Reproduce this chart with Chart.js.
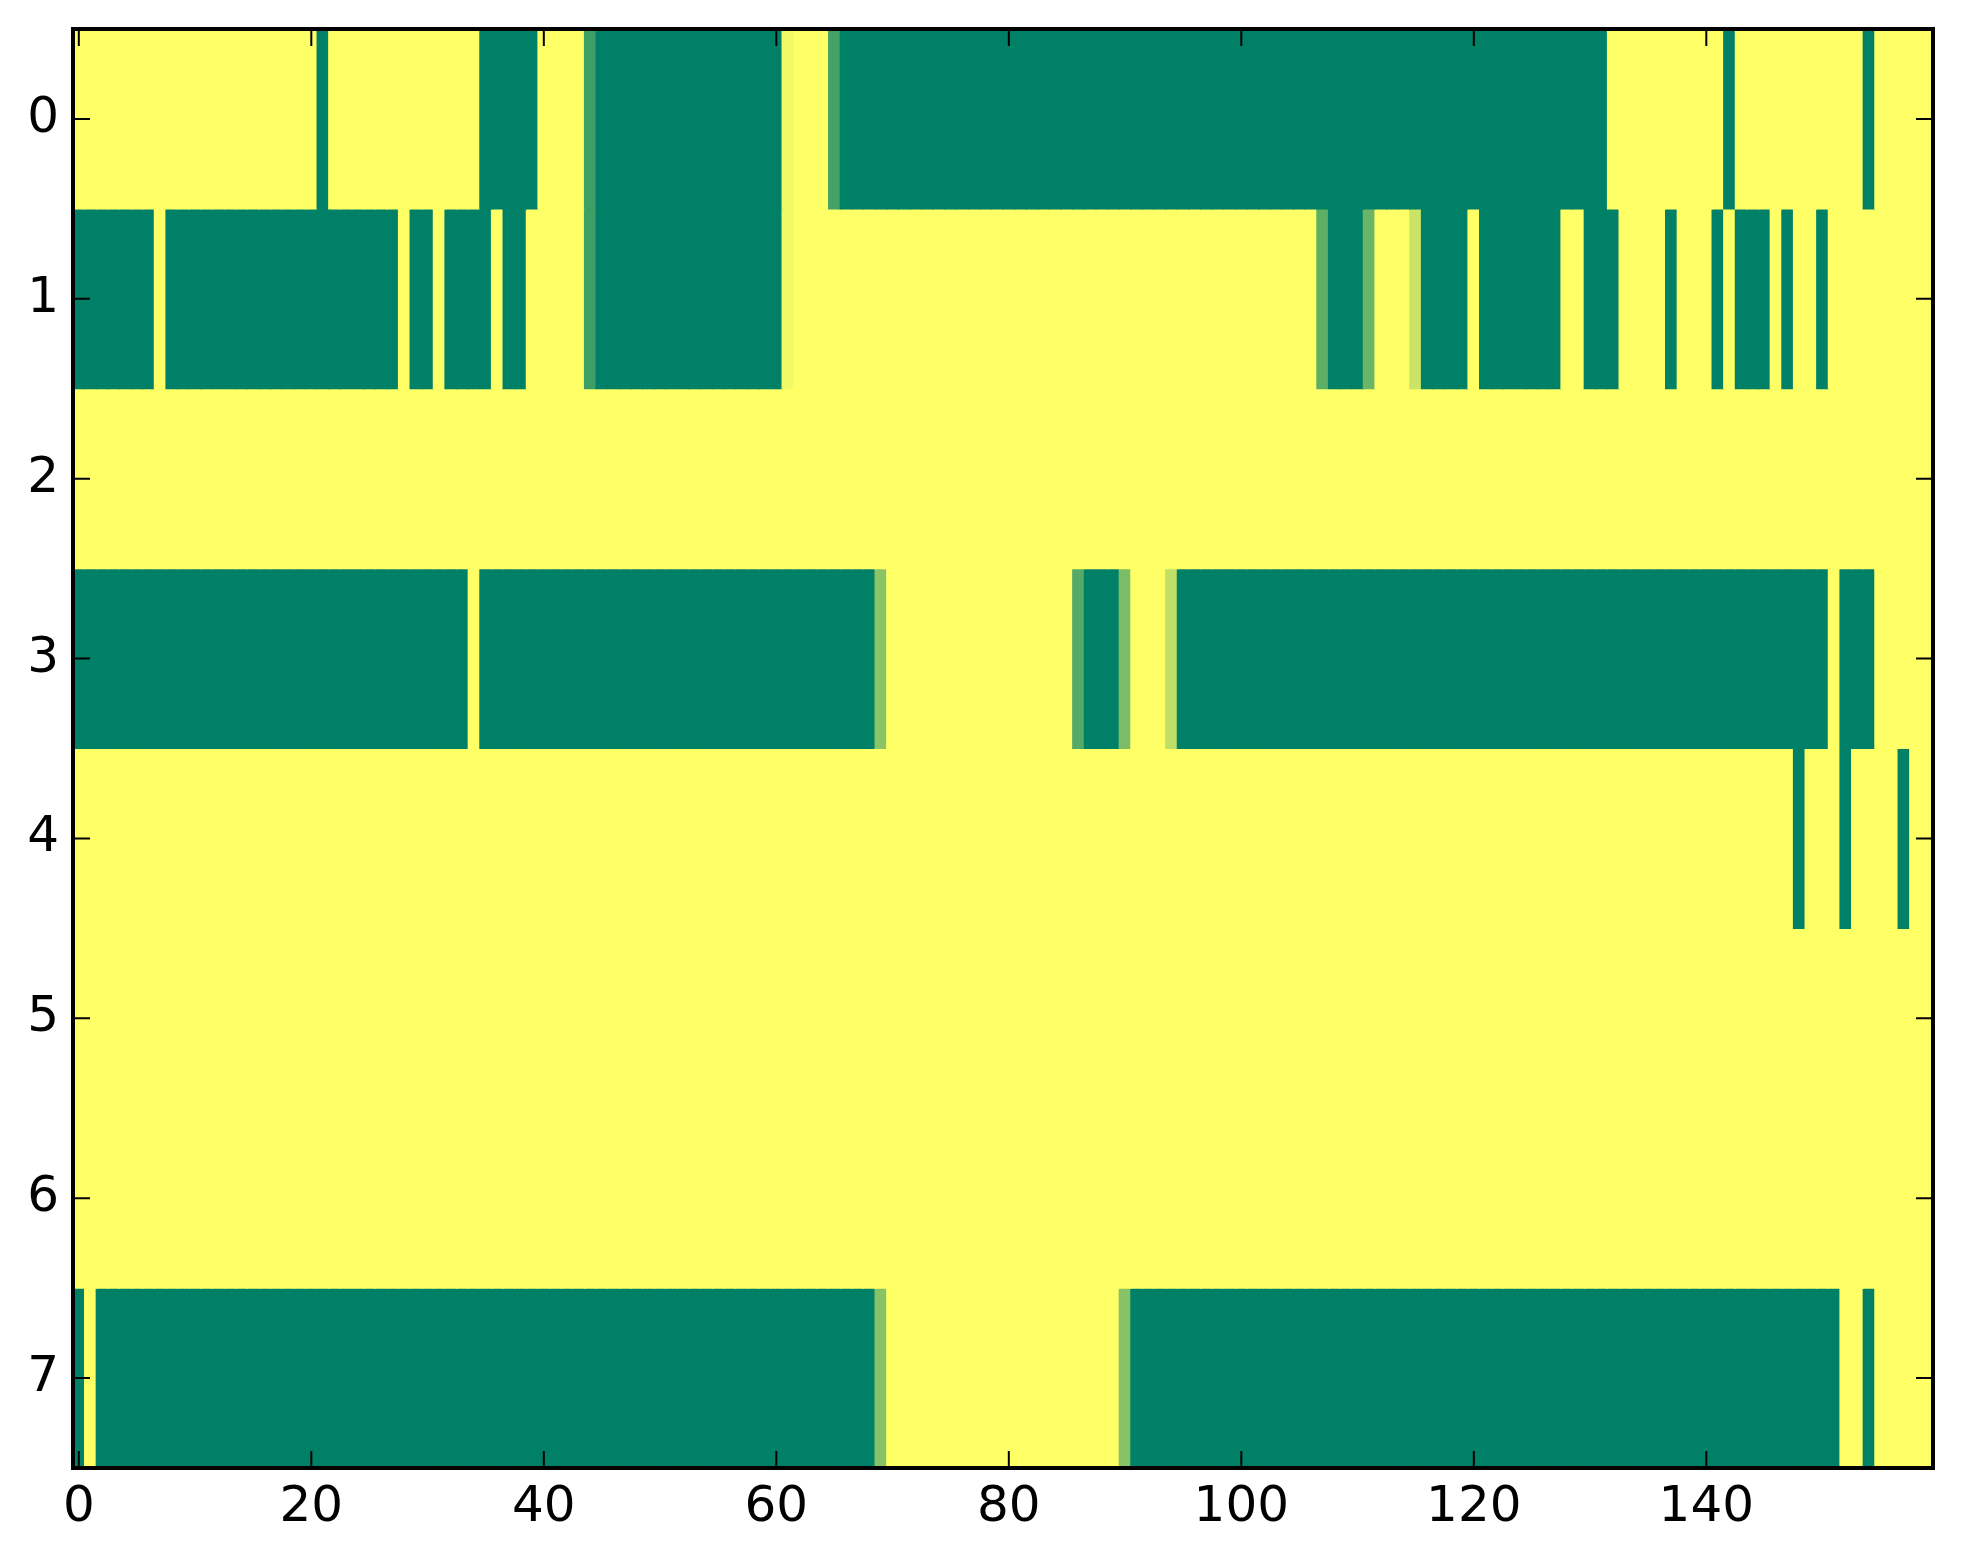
<!DOCTYPE html>
<html>
<head>
<meta charset="utf-8">
<script src="https://cdn.jsdelivr.net/npm/chart.js@4.4.1/dist/chart.umd.min.js"></script>
<style>
  html, body { margin: 0; padding: 0; background: #ffffff; }
  #wrap { width: 1963px; height: 1564px; }
</style>
</head>
<body>
<div id="wrap"><canvas id="heatChart"></canvas></div>
<script>
// one array per image row, 160 columns each (0 = green, 1 = yellow)
const row0 = [
  1,1,1,1,1,1,1,1,1,1,1,1,1,1,1,1,1,1,1,1,
  1,0,1,1,1,1,1,1,1,1,1,1,1,1,1,0,0,0,0,0,
  1,1,1,1,0.24,0,0,0,0,0,0,0,0,0,0,0,0,0,0,0,
  0,0.95,1,1,1,0.27,0,0,0,0,0,0,0,0,0,0,0,0,0,0,
  0,0,0,0,0,0,0,0,0,0,0,0,0,0,0,0,0,0,0,0,
  0,0,0,0,0,0,0,0,0,0,0,0,0,0,0,0,0,0,0,0,
  0,0,0,0,0,0,0,0,0,0,0,0,1,1,1,1,1,1,1,1,
  1,1,0,1,1,1,1,1,1,1,1,1,1,1,0,1,1,1,1,1
];
const row1 = [
  0,0,0,0,0,0,0,1,0,0,0,0,0,0,0,0,0,0,0,0,
  0,0,0,0,0,0,0,0,1,0,0,1,0,0,0,0,1,0,0,1,
  1,1,1,1,0.24,0,0,0,0,0,0,0,0,0,0,0,0,0,0,0,
  0,0.95,1,1,1,1,1,1,1,1,1,1,1,1,1,1,1,1,1,1,
  1,1,1,1,1,1,1,1,1,1,1,1,1,1,1,1,1,1,1,1,
  1,1,1,1,1,1,1,0.37,0,0,0,0.42,1,1,1,0.79,0,0,0,0,
  1,0,0,0,0,0,0,0,1,1,0,0,0,1,1,1,1,0,1,1,
  1,0,1,0,0,0,1,0,1,1,0,1,1,1,1,1,1,1,1,1
];
const row2 = [
  1,1,1,1,1,1,1,1,1,1,1,1,1,1,1,1,1,1,1,1,
  1,1,1,1,1,1,1,1,1,1,1,1,1,1,1,1,1,1,1,1,
  1,1,1,1,1,1,1,1,1,1,1,1,1,1,1,1,1,1,1,1,
  1,1,1,1,1,1,1,1,1,1,1,1,1,1,1,1,1,1,1,1,
  1,1,1,1,1,1,1,1,1,1,1,1,1,1,1,1,1,1,1,1,
  1,1,1,1,1,1,1,1,1,1,1,1,1,1,1,1,1,1,1,1,
  1,1,1,1,1,1,1,1,1,1,1,1,1,1,1,1,1,1,1,1,
  1,1,1,1,1,1,1,1,1,1,1,1,1,1,1,1,1,1,1,1
];
const row3 = [
  0,0,0,0,0,0,0,0,0,0,0,0,0,0,0,0,0,0,0,0,
  0,0,0,0,0,0,0,0,0,0,0,0,0,0,1,0,0,0,0,0,
  0,0,0,0,0,0,0,0,0,0,0,0,0,0,0,0,0,0,0,0,
  0,0,0,0,0,0,0,0,0,0.54,1,1,1,1,1,1,1,1,1,1,
  1,1,1,1,1,1,0.33,0,0,0,0.48,1,1,1,0.75,0,0,0,0,0,
  0,0,0,0,0,0,0,0,0,0,0,0,0,0,0,0,0,0,0,0,
  0,0,0,0,0,0,0,0,0,0,0,0,0,0,0,0,0,0,0,0,
  0,0,0,0,0,0,0,0,0,0,0,1,0,0,0,1,1,1,1,1
];
const row4 = [
  1,1,1,1,1,1,1,1,1,1,1,1,1,1,1,1,1,1,1,1,
  1,1,1,1,1,1,1,1,1,1,1,1,1,1,1,1,1,1,1,1,
  1,1,1,1,1,1,1,1,1,1,1,1,1,1,1,1,1,1,1,1,
  1,1,1,1,1,1,1,1,1,1,1,1,1,1,1,1,1,1,1,1,
  1,1,1,1,1,1,1,1,1,1,1,1,1,1,1,1,1,1,1,1,
  1,1,1,1,1,1,1,1,1,1,1,1,1,1,1,1,1,1,1,1,
  1,1,1,1,1,1,1,1,1,1,1,1,1,1,1,1,1,1,1,1,
  1,1,1,1,1,1,1,1,0,1,1,1,0,1,1,1,1,0,1,1
];
const row5 = [
  1,1,1,1,1,1,1,1,1,1,1,1,1,1,1,1,1,1,1,1,
  1,1,1,1,1,1,1,1,1,1,1,1,1,1,1,1,1,1,1,1,
  1,1,1,1,1,1,1,1,1,1,1,1,1,1,1,1,1,1,1,1,
  1,1,1,1,1,1,1,1,1,1,1,1,1,1,1,1,1,1,1,1,
  1,1,1,1,1,1,1,1,1,1,1,1,1,1,1,1,1,1,1,1,
  1,1,1,1,1,1,1,1,1,1,1,1,1,1,1,1,1,1,1,1,
  1,1,1,1,1,1,1,1,1,1,1,1,1,1,1,1,1,1,1,1,
  1,1,1,1,1,1,1,1,1,1,1,1,1,1,1,1,1,1,1,1
];
const row6 = [
  1,1,1,1,1,1,1,1,1,1,1,1,1,1,1,1,1,1,1,1,
  1,1,1,1,1,1,1,1,1,1,1,1,1,1,1,1,1,1,1,1,
  1,1,1,1,1,1,1,1,1,1,1,1,1,1,1,1,1,1,1,1,
  1,1,1,1,1,1,1,1,1,1,1,1,1,1,1,1,1,1,1,1,
  1,1,1,1,1,1,1,1,1,1,1,1,1,1,1,1,1,1,1,1,
  1,1,1,1,1,1,1,1,1,1,1,1,1,1,1,1,1,1,1,1,
  1,1,1,1,1,1,1,1,1,1,1,1,1,1,1,1,1,1,1,1,
  1,1,1,1,1,1,1,1,1,1,1,1,1,1,1,1,1,1,1,1
];
const row7 = [
  0,1,0,0,0,0,0,0,0,0,0,0,0,0,0,0,0,0,0,0,
  0,0,0,0,0,0,0,0,0,0,0,0,0,0,0,0,0,0,0,0,
  0,0,0,0,0,0,0,0,0,0,0,0,0,0,0,0,0,0,0,0,
  0,0,0,0,0,0,0,0,0,0.53,1,1,1,1,1,1,1,1,1,1,
  1,1,1,1,1,1,1,1,1,1,0.53,0,0,0,0,0,0,0,0,0,
  0,0,0,0,0,0,0,0,0,0,0,0,0,0,0,0,0,0,0,0,
  0,0,0,0,0,0,0,0,0,0,0,0,0,0,0,0,0,0,0,0,
  0,0,0,0,0,0,0,0,0,0,0,0,1,1,0,1,1,1,1,1
];
const rows = [row0, row1, row2, row3, row4, row5, row6, row7];

const xTicks = [0, 20, 40, 60, 80, 100, 120, 140];
const yTicks = [0, 1, 2, 3, 4, 5, 6, 7];

// matplotlib "summer": 0 -> #008066, 1 -> #ffff66
function summer(v) {
  const r = Math.round(255 * v);
  const g = Math.round(127.5 + 127.5 * v);
  return `rgb(${r}, ${g}, 102)`;
}

const datasets = rows.map((vals, r) => ({
  data: vals.map((v, j) => ({x: j, y: [r - 0.5, r + 0.5]})),
  backgroundColor: vals.map(summer),
  borderWidth: 0,
  barPercentage: 1,
  categoryPercentage: 1,
  grouped: false,
  inflateAmount: 0.6
}));

// inward ticks on all four sides plus the black frame
const framePlugin = {
  id: 'frame',
  afterDraw(chart) {
    const {ctx, chartArea: a, scales} = chart;
    const len = 17;
    ctx.save();
    ctx.strokeStyle = '#000000';
    ctx.lineWidth = 2;
    ctx.beginPath();
    xTicks.forEach(t => {
      const px = scales.x.getPixelForValue(t);
      ctx.moveTo(px, a.bottom); ctx.lineTo(px, a.bottom - len);
      ctx.moveTo(px, a.top); ctx.lineTo(px, a.top + len);
    });
    yTicks.forEach(t => {
      const py = scales.y.getPixelForValue(t);
      ctx.moveTo(a.left, py); ctx.lineTo(a.left + len, py);
      ctx.moveTo(a.right, py); ctx.lineTo(a.right - len, py);
    });
    ctx.stroke();
    ctx.lineWidth = 4;
    ctx.strokeRect(a.left, a.top, a.right - a.left, a.bottom - a.top);
    ctx.restore();
  }
};

const tickFont = {family: '"DejaVu Sans", sans-serif', size: 50};

new Chart(document.getElementById('heatChart').getContext('2d'), {
  type: 'bar',
  data: {datasets: datasets},
  options: {
    responsive: true,
    maintainAspectRatio: false,
    animation: false,
    layout: {padding: {left: 0, top: 29, right: 30, bottom: 0}},
    scales: {
      x: {
        type: 'linear',
        min: -0.5,
        max: 159.5,
        offset: false,
        grid: {display: false, drawTicks: false},
        border: {display: false},
        ticks: {color: '#000000', font: tickFont, padding: 10, maxRotation: 0},
        afterBuildTicks: axis => { axis.ticks = xTicks.map(v => ({value: v})); },
        afterFit: axis => {
          axis.height = 96;
          axis.paddingLeft = 0;
          axis.paddingRight = 0;
        }
      },
      y: {
        type: 'linear',
        reverse: true,
        min: -0.5,
        max: 7.5,
        grid: {display: false, drawTicks: false},
        border: {display: false},
        ticks: {color: '#000000', font: tickFont, padding: 14},
        afterBuildTicks: axis => { axis.ticks = yTicks.map(v => ({value: v})); },
        afterFit: axis => {
          axis.width = 73;
          axis.paddingTop = 0;
          axis.paddingBottom = 0;
        }
      }
    },
    plugins: {
      legend: {display: false},
      tooltip: {enabled: false}
    }
  },
  plugins: [framePlugin]
});
</script>
</body>
</html>
